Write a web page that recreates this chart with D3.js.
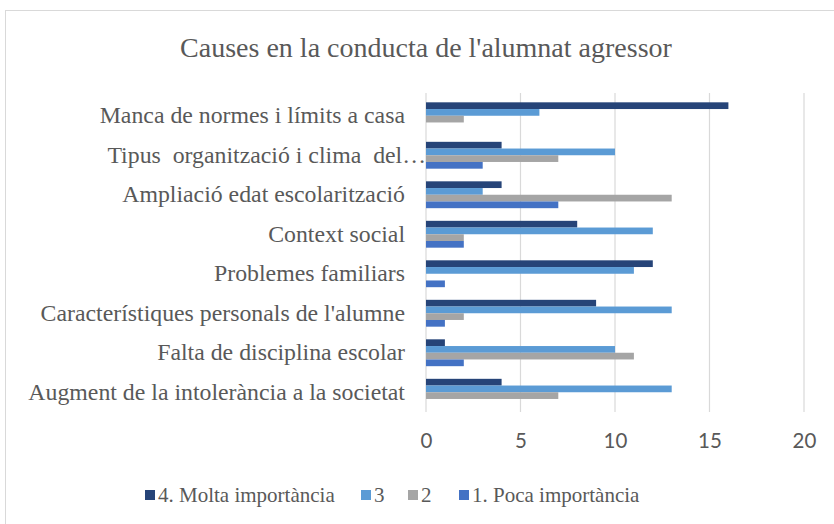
<!DOCTYPE html>
<html>
<head>
    <meta charset="utf-8">
    <script src="https://d3js.org/d3.v7.min.js"></script>
    <style>
        body { margin: 0; background: #fff; }
    </style>
</head>
<body>
    <div id="my_dataviz"></div>
    <script>

        // categories, top to bottom
        var categories = [
            "Manca de normes i límits a casa",
            "Tipus  organització i clima  del…",
            "Ampliació edat escolarització",
            "Context social",
            "Problemes familiars",
            "Característiques personals de l'alumne",
            "Falta de disciplina escolar",
            "Augment de la intolerància a la societat"
        ];

        // series values (same order as categories)
        var molta = [16, 4, 4, 8, 12, 9, 1, 4];
        var tres = [6, 10, 3, 12, 11, 13, 10, 13];
        var dos = [2, 7, 13, 2, 0, 2, 11, 7];
        var poca = [0, 3, 7, 2, 1, 1, 2, 0];

        var seriesNames = ["4. Molta importància", "3", "2", "1. Poca importància"];
        var seriesColors = ["#264478", "#5B9BD5", "#A5A5A5", "#4472C4"];
        var xTicks = [0, 5, 10, 15, 20];

        var series = [molta, tres, dos, poca];

        var W = 834, H = 524;
        var serif = "Liberation Serif, Times New Roman, serif";
        var svg = d3.select("#my_dataviz")
            .append("svg")
            .attr("width", W)
            .attr("height", H);

        // chart border (right and bottom edges fall outside the picture)
        svg.append("rect")
            .attr("x", 5.5).attr("y", 10.5)
            .attr("width", 840).attr("height", 530)
            .attr("fill", "#fff")
            .attr("stroke", "#D9D9D9");

        // title
        svg.append("text")
            .attr("x", 426)
            .attr("y", 57)
            .attr("text-anchor", "middle")
            .attr("font-family", serif)
            .attr("font-size", 28)
            .attr("fill", "#595959")
            .text("Causes en la conducta de l'alumnat agressor");

        var x = d3.scaleLinear().domain([0, 20]).range([426, 804]);
        var y = d3.scaleBand().domain(categories).range([96, 412]).paddingInner(0.32).paddingOuter(0.16);
        var ySub = d3.scaleBand().domain(d3.range(series.length)).range([0, y.bandwidth()]);

        // gridlines
        svg.append("g")
            .selectAll("line")
            .data(xTicks)
            .join("line")
            .attr("x1", function (d) { return x(d); })
            .attr("x2", function (d) { return x(d); })
            .attr("y1", 93)
            .attr("y2", 412)
            .attr("stroke", "#D9D9D9")
            .attr("stroke-width", 1.2);

        // bars
        series.forEach(function (vals, s) {
            svg.append("g")
                .selectAll("rect")
                .data(categories)
                .join("rect")
                .attr("x", x(0))
                .attr("y", function (d, i) { return y(d) + ySub(s); })
                .attr("width", function (d, i) { return x(vals[i]) - x(0); })
                .attr("height", ySub.bandwidth())
                .attr("fill", seriesColors[s]);
        });

        // y axis labels
        var yAxis = svg.append("g")
            .attr("transform", "translate(" + x(0) + ",0)")
            .call(d3.axisLeft(y).tickSize(0).tickPadding(21));
        yAxis.select(".domain").remove();
        yAxis.selectAll("text")
            .attr("font-family", serif)
            .attr("font-size", 23.8)
            .attr("fill", "#595959")
            .style("white-space", "pre");
        // the truncated label runs up to the axis
        yAxis.selectAll("text")
            .filter(function (d) { return d === categories[1]; })
            .attr("x", 0);

        // x axis labels
        var xAxis = svg.append("g")
            .attr("transform", "translate(0,412)")
            .call(d3.axisBottom(x).tickValues(xTicks).tickSize(0).tickPadding(21));
        xAxis.select(".domain").remove();
        xAxis.selectAll("text")
            .attr("font-family", "Lato, Carlito, sans-serif")
            .attr("font-size", 20.5)
            .attr("fill", "#595959");

        // legend
        var legendX = [145, 361, 408, 459];
        var legend = svg.append("g");
        seriesNames.forEach(function (name, i) {
            legend.append("rect")
                .attr("x", legendX[i])
                .attr("y", 490)
                .attr("width", 10)
                .attr("height", 10)
                .attr("fill", seriesColors[i]);
            legend.append("text")
                .attr("x", legendX[i] + 13)
                .attr("y", 502)
                .attr("font-family", serif)
                .attr("font-size", 21)
                .attr("fill", "#595959")
                .text(name);
        });

    </script>
</body>
</html>
